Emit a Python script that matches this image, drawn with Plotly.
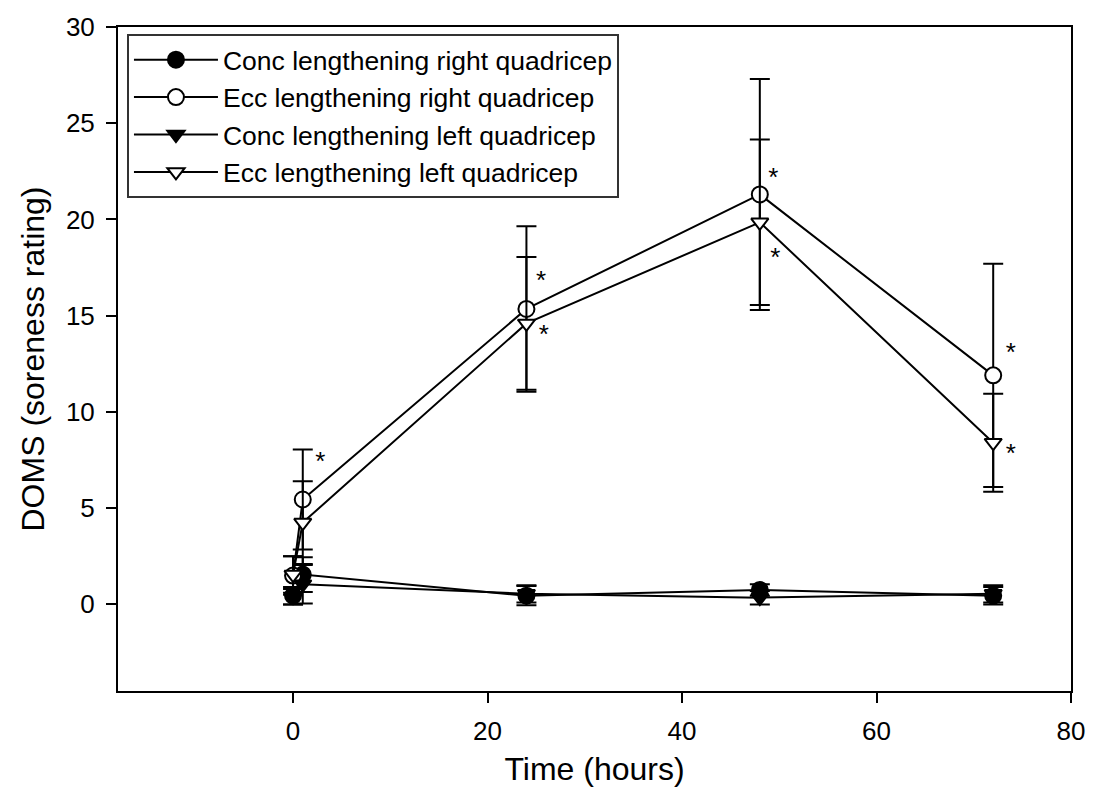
import plotly.graph_objects as go

# Soreness ratings (mean and error) after concentric / eccentric lengthening
hours = [0, 1, 24, 48, 72]

conc_right = [0.45, 1.55, 0.45, 0.75, 0.45]
conc_right_err = [0.45, 0.9, 0.5, 0.3, 0.45]

ecc_right = [1.5, 5.45, 15.35, 21.3, 11.9]
ecc_right_err = [1.0, 2.6, 4.3, 6.0, 5.8]

conc_left = [0.4, 1.05, 0.55, 0.35, 0.55]
conc_left_err = [0.4, 1.0, 0.45, 0.35, 0.45]

ecc_left = [1.55, 4.25, 14.6, 19.85, 8.4]
ecc_left_err = [0.95, 2.15, 3.45, 4.3, 2.55]

# significance markers
star_x = [2.8, 25.5, 25.8, 49.4, 49.6, 73.8, 73.8]
star_y = [7.3, 16.7, 13.9, 22.1, 17.9, 13.0, 7.75]

x_ticks = [0, 20, 40, 60, 80]
y_ticks = [0, 5, 10, 15, 20, 25, 30]

FONT = "Liberation Sans, Arial, sans-serif"

series = [
    ("Conc lengthening right quadricep", conc_right, conc_right_err, "circle", "black", 16),
    ("Ecc lengthening right quadricep", ecc_right, ecc_right_err, "circle", "white", 16),
    ("Conc lengthening left quadricep", conc_left, conc_left_err, "triangle-down", "black", 15),
    ("Ecc lengthening left quadricep", ecc_left, ecc_left_err, "triangle-down", "white", 15),
]

fig = go.Figure()
for name, vals, errs, symbol, fill, size in series:
    fig.add_trace(go.Scatter(
        x=hours, y=vals, name=name, mode="lines+markers",
        line=dict(color="black", width=2),
        marker=dict(symbol=symbol, size=size, color=fill,
                    line=dict(color="black", width=2)),
        error_y=dict(type="data", array=errs, visible=True,
                     color="black", thickness=2, width=10),
    ))

fig.add_trace(go.Scatter(
    x=star_x, y=star_y, mode="text", text=["*"] * len(star_x),
    textfont=dict(family=FONT, size=26, color="black"),
    showlegend=False, hoverinfo="skip",
))

axis_common = dict(
    showline=True, linecolor="black", linewidth=2, mirror=True,
    ticks="outside", ticklen=10, tickwidth=2, tickcolor="black",
    showgrid=False, zeroline=False,
    tickfont=dict(family=FONT, size=26, color="black"),
)

fig.update_layout(
    width=1097, height=804,
    margin=dict(l=118, r=21, t=20, b=113),
    paper_bgcolor="white", plot_bgcolor="white",
    font=dict(family=FONT, color="black"),
    showlegend=True,
    legend=dict(
        x=0.0094, y=0.9896, xanchor="left", yanchor="top",
        bgcolor="white", bordercolor="#333", borderwidth=2,
        font=dict(family=FONT, size=26.5, color="black"),
        itemwidth=84,
    ),
    xaxis=dict(
        range=[-18, 80], tickvals=x_ticks,
        title=dict(text="Time (hours)", font=dict(family=FONT, size=32), standoff=12),
        ticklabelstandoff=6,
        **axis_common,
    ),
    yaxis=dict(
        range=[-4.5, 30], tickvals=y_ticks,
        title=dict(text="DOMS (soreness rating)", font=dict(family=FONT, size=32), standoff=12),
        ticklabelstandoff=6,
        **axis_common,
    ),
)

fig.write_html("out.html")
